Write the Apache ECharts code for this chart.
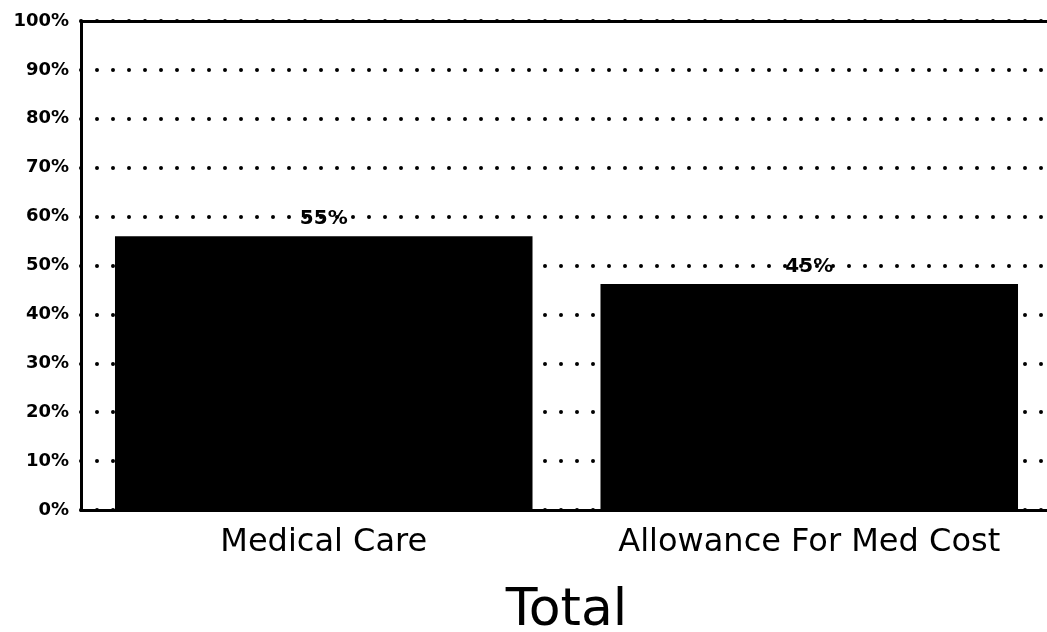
<!DOCTYPE html>
<html>
<head>
<meta charset="utf-8">
<script src="https://cdn.jsdelivr.net/npm/echarts@6/dist/echarts.min.js"></script>
<style>
  html, body { margin: 0; padding: 0; background: #fff; }
  #chart { width: 1047px; height: 632px; }
</style>
</head>
<body>
<div id="chart"></div>
<script>
// data
const categories = ['Medical Care', 'Allowance For Med Cost'];
const shares = [56, 46.2];
const barLabels = ['55%', '45%'];
const yTicks = [0, 10, 20, 30, 40, 50, 60, 70, 80, 90, 100];
const axisTitle = 'Total';

const chart = echarts.init(document.getElementById('chart'));
const font = 'DejaVu Sans';

const option = {
    animation: false,
    grid: {
        left: 81,
        width: 971,
        top: 21,
        bottom: 122,
        containLabel: false,
        outerBoundsMode: 'none'
    },
    xAxis: [{
        type: 'category',
        data: categories,
        name: axisTitle,
        nameLocation: 'middle',
        nameGap: 75,
        nameTextStyle: { fontFamily: font, fontSize: 52, color: '#000' },
        axisLine: { lineStyle: { color: '#000', width: 3 } },
        axisTick: { show: false },
        axisLabel: { fontFamily: font, fontSize: 32, color: '#000', margin: 17, interval: 0 }
    }, {
        // top frame line only
        type: 'category',
        position: 'top',
        data: categories,
        axisLine: { lineStyle: { color: '#000', width: 3 } },
        axisTick: { show: false },
        axisLabel: { show: false }
    }],
    yAxis: {
        type: 'value',
        min: yTicks[0],
        max: yTicks[yTicks.length - 1],
        interval: 10,
        axisLine: { show: true, lineStyle: { color: '#000', width: 3 } },
        axisTick: { show: false },
        axisLabel: {
            fontFamily: font, fontSize: 18, fontWeight: 'bold', color: '#000', margin: 12,
            formatter: '{value}%'
        },
        splitLine: {
            lineStyle: { color: '#000', width: 4, type: [0, 16], cap: 'round' }
        }
    },
    series: [{
        type: 'bar',
        data: shares,
        barWidth: '86%',
        itemStyle: { color: '#000' },
        label: {
            show: true,
            position: 'top',
            distance: 7,
            fontFamily: font,
            fontSize: 20,
            fontWeight: 'bold',
            color: '#000',
            formatter: function (p) { return barLabels[p.dataIndex]; }
        }
    }]
};
chart.setOption(option);
</script>
</body>
</html>
